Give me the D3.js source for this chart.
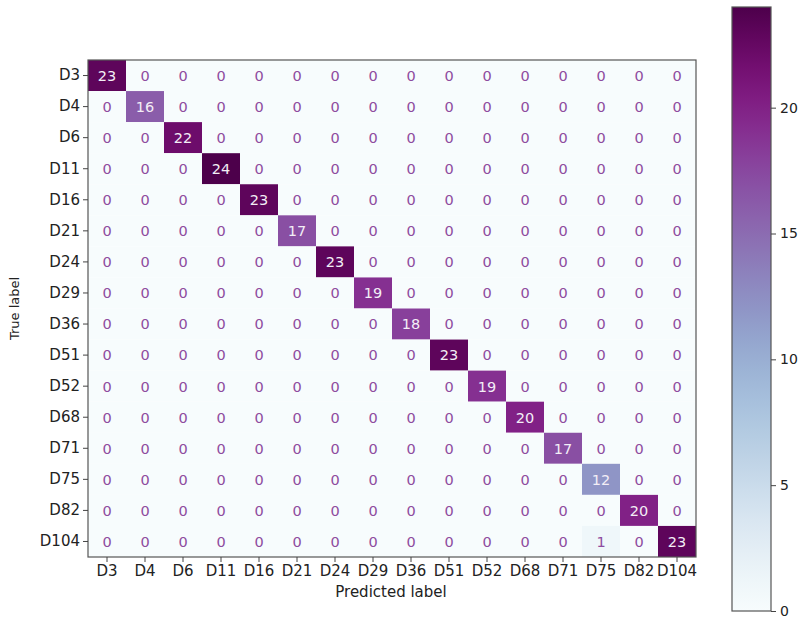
<!DOCTYPE html>
<html><head><meta charset="utf-8">
<script src="https://cdn.jsdelivr.net/npm/d3@7"></script>
<style>body{margin:0;background:#fff}svg{display:block}text{font-family:"DejaVu Sans",sans-serif}</style>
</head><body><svg id="c" width="805" height="618"></svg>
<script>
const labels = ["D3","D4","D6","D11","D16","D21","D24","D29","D36","D51","D52","D68","D71","D75","D82","D104"];
const diagonal = [23,16,22,24,23,17,23,19,18,23,19,20,17,12,20,23];
// off-diagonal non-zero entries: [trueIndex, predIndex, value]
const offDiag = [[15,13,1]];
const cbTicks = [0,5,10,15,20];
const vmax = 24;

const n = labels.length;
const matrix = labels.map((_, i) => labels.map((_, j) => i === j ? diagonal[i] : 0));
offDiag.forEach(([i, j, v]) => matrix[i][j] = v);

const svg = d3.select("#c");
const L = 88, R = 696, T = 60, B = 557;
const x = d3.scaleBand().domain(labels).range([L, R]);
const y = d3.scaleBand().domain(labels).range([T, B]);
const color = d3.scaleSequential(d3.interpolateBuPu).domain([0, vmax]);

const cells = [];
matrix.forEach((row, i) => row.forEach((v, j) => cells.push({t: labels[i], p: labels[j], v})));

svg.append("g").selectAll("rect").data(cells).join("rect")
  .attr("x", d => x(d.p)).attr("y", d => y(d.t))
  .attr("width", x.bandwidth()).attr("height", y.bandwidth())
  .attr("fill", d => color(d.v));

svg.append("g").selectAll("text").data(cells).join("text")
  .attr("x", d => x(d.p) + x.bandwidth()/2)
  .attr("y", d => y(d.t) + y.bandwidth()/2)
  .attr("dy", "0.37em").attr("text-anchor", "middle")
  .attr("font-size", 14.5)
  .attr("fill", d => d.v >= vmax/2 ? "#f3eef6" : "#8e4c9f")
  .text(d => d.v);

svg.append("rect").attr("x", L).attr("y", T).attr("width", R-L).attr("height", B-T)
  .attr("fill", "none").attr("stroke", "#555").attr("stroke-width", 1.2);

const xAxis = svg.append("g").attr("transform", `translate(0,${B})`)
  .call(d3.axisBottom(x).tickSize(5).tickPadding(3));
const yAxis = svg.append("g").attr("transform", `translate(${L},0)`)
  .call(d3.axisLeft(y).tickSize(5).tickPadding(3));
[xAxis, yAxis].forEach(g => {
  g.select(".domain").remove();
  g.selectAll("line").attr("stroke", "#444");
  g.selectAll("text").attr("font-size", 15).attr("fill", "#222").attr("font-family", "DejaVu Sans");
});

svg.append("text").attr("x", 391).attr("y", 597).attr("text-anchor", "middle")
  .attr("font-size", 15).attr("fill", "#222").text("Predicted label");
svg.append("text").attr("transform", `translate(19,${(T+B)/2}) rotate(-90)`)
  .attr("text-anchor", "middle").attr("font-size", 13).attr("fill", "#222").text("True label");

// colorbar
const cbL = 732, cbW = 39, cbTop = 7, cbBot = 611;
const cy = d3.scaleLinear().domain([0, vmax]).range([cbBot, cbTop]);
const defs = svg.append("defs");
const grad = defs.append("linearGradient").attr("id", "g").attr("x1", 0).attr("y1", 1).attr("x2", 0).attr("y2", 0);
d3.range(0, 1.0001, 0.05).forEach(t => grad.append("stop").attr("offset", t).attr("stop-color", color(t*vmax)));
svg.append("rect").attr("x", cbL).attr("y", cbTop).attr("width", cbW).attr("height", cbBot-cbTop)
  .attr("fill", "url(#g)").attr("stroke", "#555").attr("stroke-width", 1.2);
const cAxis = svg.append("g").attr("transform", `translate(${cbL+cbW},0)`)
  .call(d3.axisRight(cy).tickValues(cbTicks).tickSize(5).tickPadding(4));
cAxis.select(".domain").remove();
cAxis.selectAll("line").attr("stroke", "#444");
cAxis.selectAll("text").attr("font-size", 14).attr("fill", "#222").attr("font-family", "DejaVu Sans");
</script></body></html>
